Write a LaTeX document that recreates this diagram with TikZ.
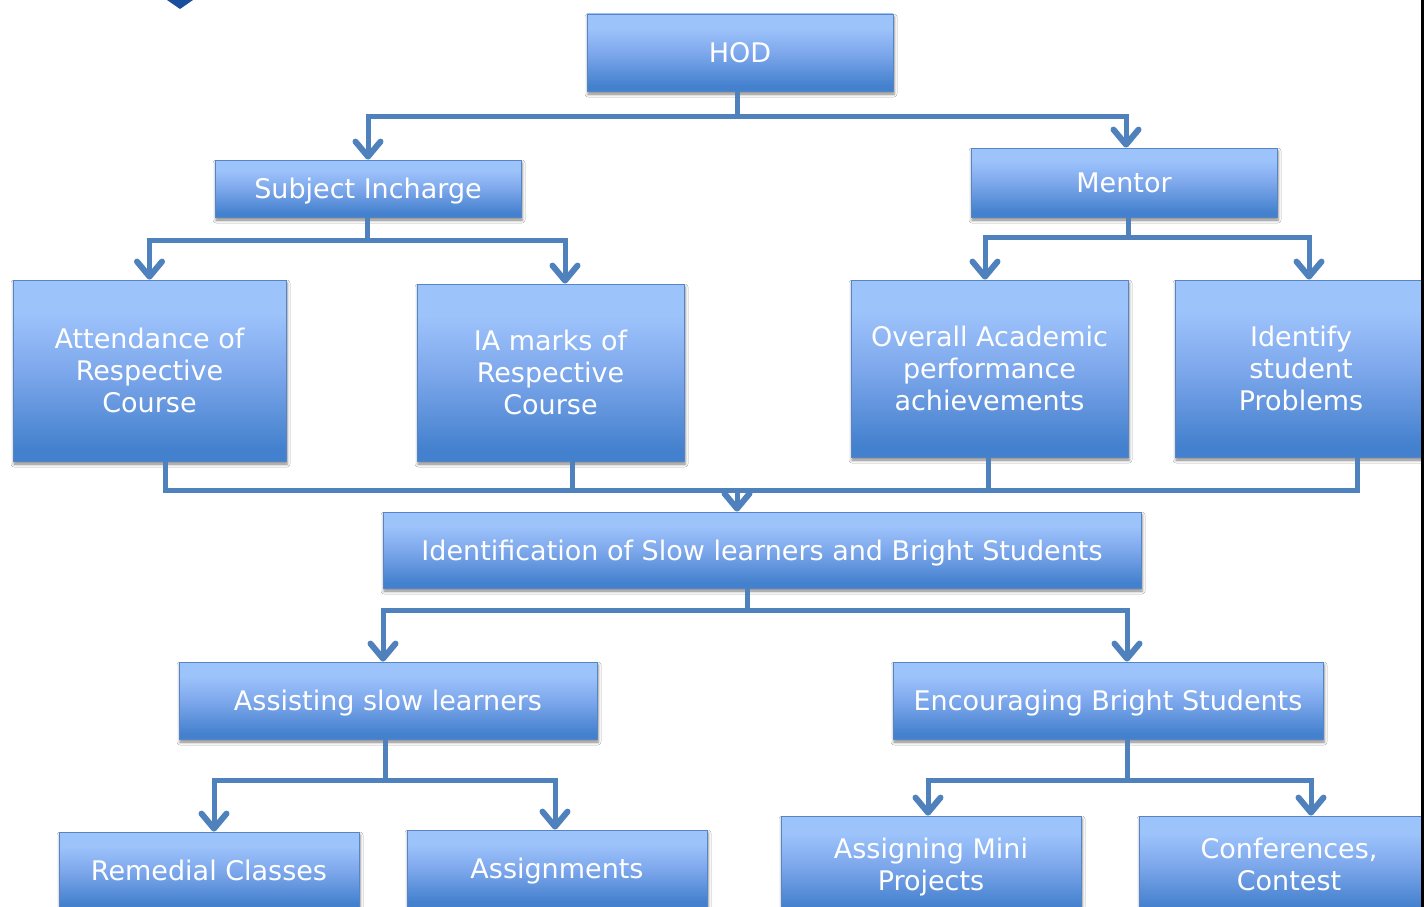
\documentclass[tikz,border=0pt]{standalone}
\usepackage{fontspec}
\setmainfont{DejaVu Sans}
\usetikzlibrary{arrows.meta,shadows.blur}
\definecolor{btop}{HTML}{9DC3FB}
\definecolor{bmid}{HTML}{7EA8EC}
\definecolor{bbot}{HTML}{4380CD}
\definecolor{bline}{HTML}{5585C4}
\definecolor{lnc}{HTML}{4F81BD}
\definecolor{markc}{HTML}{1A4FA0}
\pgfdeclareverticalshading{boxshade}{100bp}{color(0bp)=(bbot); color(28bp)=(bbot); color(50bp)=(bmid); color(66bp)=(btop); color(100bp)=(btop)}
\tikzset{
  box/.style={draw=bline, line width=0.8pt, shading=boxshade, text=white, align=center,
    font=\fontsize{27}{32}\selectfont, inner sep=0pt,
    blur shadow={shadow xshift=1pt, shadow yshift=-3pt, shadow blur radius=3pt, shadow opacity=50}},
  one/.style={text height=20pt, text depth=0pt},
  wire/.style={draw=lnc, line width=5pt},
  arr/.style={wire, -{Straight Barb[length=15pt,width=25pt,line width=6pt,round]}}
}
\begin{document}
\begin{tikzpicture}[x=1pt,y=-1pt]
\useasboundingbox (0,0) rectangle (1427,907);
\fill[white] (0,0) rectangle (1427,907);
\clip (0,0) rectangle (1427,907);
\fill[markc] (167,0) -- (193,0) -- (180,9) -- cycle;

\node[box,one,minimum width=306pt,minimum height=77pt] (hod) at (740,52.5) {HOD};
\node[box,one,minimum width=306pt,minimum height=57pt] (sub) at (368,188.5) {Subject Incharge};
\node[box,one,minimum width=306pt,minimum height=69pt] (men) at (1124,182.5) {Mentor};
\node[box,minimum width=273pt,minimum height=181pt] (att) at (149.5,370.5) {Attendance of\\Respective\\Course};
\node[box,minimum width=267pt,minimum height=177pt] (ia) at (550.5,372.5) {IA marks of\\Respective\\Course};
\node[box,minimum width=277pt,minimum height=177pt] (ova) at (989.5,368.5) {Overall Academic\\performance\\achievements};
\node[box,minimum width=252pt,minimum height=177pt] (idp) at (1301,368.5) {Identify\\student\\Problems};
\node[box,one,minimum width=758pt,minimum height=76pt] (idn) at (762,550) {Identification of Slow learners and Bright Students};
\node[box,one,minimum width=418pt,minimum height=77pt] (asl) at (388,700.5) {Assisting slow learners};
\node[box,one,minimum width=430pt,minimum height=77pt] (enc) at (1108,700.5) {Encouraging Bright Students};
\node[box,one,minimum width=300pt,minimum height=77pt] (rem) at (209,870.5) {Remedial Classes};
\node[box,one,minimum width=300pt,minimum height=77pt] (asg) at (557,868.5) {Assignments};
\node[box,text depth=0pt,minimum width=300pt,minimum height=97pt] (ami) at (931,864.5) {Assigning Mini\\Projects};
\node[box,minimum width=300pt,minimum height=97pt] (con) at (1289,864.5) {Conferences,\\Contest};

% HOD
\coordinate (j1) at (737,116);
\draw[wire] (j1 |- hod.south) -- (j1);
\draw[arr] (j1) -| (sub.north);
\draw[arr] (j1) -| ([xshift=2pt]men.north);
% Subject Incharge
\coordinate (j2) at (367,240);
\draw[wire] (j2 |- sub.south) -- (j2);
\draw[arr] (j2) -| (att.north);
\draw[arr] (j2) -| ([xshift=14.5pt]ia.north);
% Mentor
\coordinate (j3) at (1128,237);
\draw[wire] (j3 |- men.south) -- (j3);
\draw[arr] (j3) -| ([xshift=-4.5pt]ova.north);
\draw[arr] (j3) -| ([xshift=8pt]idp.north);
% merge
\coordinate (bl) at (165,490);
\coordinate (br) at (1357,490);
\coordinate (j4) at (737,490);
\draw[wire] (bl |- att.south) -- (bl) -- (br) -- (br |- idp.south);
\draw[wire] ([xshift=21.5pt]ia.south) -- ([xshift=21.5pt]ia.south |- bl);
\draw[wire] ([xshift=-1.5pt]ova.south) -- ([xshift=-1.5pt]ova.south |- bl);
\draw[arr] (j4) -- (j4 |- idn.north);
% Identification
\coordinate (j5) at (747,610);
\draw[wire] (j5 |- idn.south) -- (j5);
\draw[arr] (j5) -| ([xshift=-5pt]asl.north);
\draw[arr] (j5) -| ([xshift=19pt]enc.north);
% Assisting
\coordinate (j6) at (385,780);
\draw[wire] (j6 |- asl.south) -- (j6);
\draw[arr] (j6) -| ([xshift=5pt]rem.north);
\draw[arr] (j6) -| ([xshift=-2pt]asg.north);
% Encouraging
\coordinate (j7) at (1127,780);
\draw[wire] (j7 |- enc.south) -- (j7);
\draw[arr] (j7) -| ([xshift=-3pt]ami.north);
\draw[arr] (j7) -| ([xshift=22pt]con.north);

% right frame
\fill[white] (1424,0) rectangle (1427,907);
\fill[black] (1420.5,0) rectangle (1424,907);
\end{tikzpicture}
\end{document}
